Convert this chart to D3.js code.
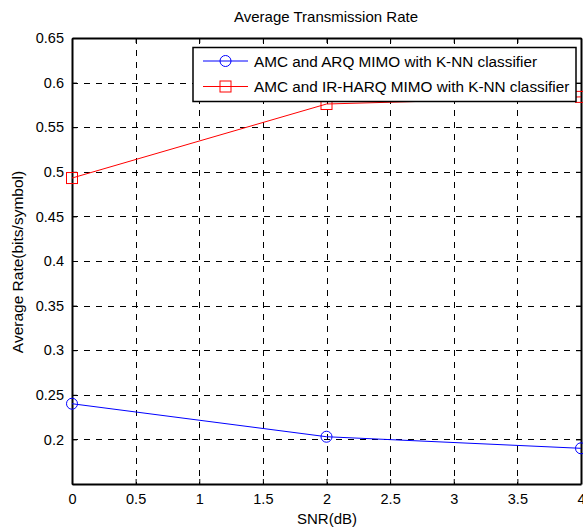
<!DOCTYPE html>
<html><head><meta charset="utf-8">
<script src="https://cdn.jsdelivr.net/npm/d3@7"></script>
<style>body{margin:0;background:#fff}svg{display:block}text{font-family:"Liberation Sans",Arial,sans-serif}</style>
</head><body>
<script>
const snr = [0, 2, 4];
const arqRate = [0.24, 0.203, 0.19];
const harqRate = [0.493, 0.576, 0.584];
const seriesNames = ["AMC and ARQ MIMO with K-NN classifier", "AMC and IR-HARQ MIMO with K-NN classifier"];
const xTicks = [0, 0.5, 1, 1.5, 2, 2.5, 3, 3.5, 4];
const yTicks = [0.15, 0.2, 0.25, 0.3, 0.35, 0.4, 0.45, 0.5, 0.55, 0.6, 0.65];

const W = 583, H = 528;
const m = {left: 72, right: 2, top: 38, bottom: 44};
const svg = d3.select("body").append("svg").attr("width", W).attr("height", H);
const x = d3.scaleLinear().domain([0, 4]).range([m.left, W - m.right]);
const y = d3.scaleLinear().domain([0.15, 0.65]).range([H - m.bottom, m.top]);

// grid
const g = svg.append("g");
g.selectAll(".vg").data(xTicks.slice(1, -1)).join("line")
  .attr("x1", d => Math.round(x(d)) + 0.5).attr("x2", d => Math.round(x(d)) + 0.5)
  .attr("y1", m.top).attr("y2", H - m.bottom)
  .attr("stroke", "#000").attr("stroke-width", 1).attr("stroke-dasharray", "6,6");
g.selectAll(".hg").data(yTicks.slice(1, -1)).join("line")
  .attr("y1", d => Math.round(y(d)) + 0.5).attr("y2", d => Math.round(y(d)) + 0.5)
  .attr("x1", m.left).attr("x2", W - m.right)
  .attr("stroke", "#000").attr("stroke-width", 1).attr("stroke-dasharray", "6,6");

// axes
const xAxis = d3.axisBottom(x).tickValues(xTicks).tickSizeInner(-5).tickSizeOuter(0).tickPadding(10).tickFormat(d3.format("~g"));
const yAxis = d3.axisLeft(y).tickValues(yTicks).tickSizeInner(-5).tickSizeOuter(0).tickPadding(8)
  .tickFormat(d => d === 0.15 ? "" : d3.format("~g")(d));
const xa = svg.append("g").attr("transform", `translate(0,${H - m.bottom})`).call(xAxis);
const ya = svg.append("g").attr("transform", `translate(${m.left},0)`).call(yAxis);
const xt = svg.append("g").attr("transform", `translate(0,${m.top})`).call(d3.axisTop(x).tickValues(xTicks).tickSizeInner(-5).tickSizeOuter(0).tickFormat(""));
const yr = svg.append("g").attr("transform", `translate(${W - m.right},0)`).call(d3.axisRight(y).tickValues(yTicks).tickSizeInner(-5).tickSizeOuter(0).tickFormat(""));
[xa, ya, xt, yr].forEach(a => {
  a.select(".domain").attr("stroke", "#000").attr("stroke-width", 2);
  a.selectAll(".tick line").attr("stroke", "#000").attr("stroke-width", 1);
  a.selectAll(".tick text").attr("font-size", 14.5).attr("fill", "#000").attr("font-family", "Liberation Sans, Arial, sans-serif");
});

// series
const line = d3.line().x(d => x(d[0])).y(d => y(d[1]));
const arqPts = snr.map((s, i) => [s, arqRate[i]]);
const harqPts = snr.map((s, i) => [s, harqRate[i]]);
svg.append("path").datum(arqPts).attr("d", line).attr("fill", "none").attr("stroke", "#0000ff").attr("stroke-width", 1);
svg.append("path").datum(harqPts).attr("d", line).attr("fill", "none").attr("stroke", "#ff0000").attr("stroke-width", 1);
svg.selectAll(".c").data(arqPts).join("circle").attr("cx", d => x(d[0])).attr("cy", d => y(d[1])).attr("r", 5.5)
  .attr("fill", "none").attr("stroke", "#0000ff").attr("stroke-width", 1);
svg.selectAll(".s").data(harqPts).join("rect").attr("x", d => x(d[0]) - 5.5).attr("y", d => y(d[1]) - 5.5)
  .attr("width", 11).attr("height", 11).attr("fill", "none").attr("stroke", "#ff0000").attr("stroke-width", 1);

// legend
const lg = svg.append("g");
lg.append("rect").attr("x", 193).attr("y", 47.5).attr("width", 383).attr("height", 54)
  .attr("fill", "#fff").attr("stroke", "#000").attr("stroke-width", 1.5);
const colors = ["#0000ff", "#ff0000"];
seriesNames.forEach((n, i) => {
  const yy = 61 + i * 25.5;
  lg.append("line").attr("x1", 203).attr("x2", 248).attr("y1", yy).attr("y2", yy).attr("stroke", colors[i]).attr("stroke-width", 1);
  if (i === 0) lg.append("circle").attr("cx", 225.5).attr("cy", yy).attr("r", 5.5).attr("fill", "none").attr("stroke", colors[i]);
  else lg.append("rect").attr("x", 220).attr("y", yy - 5.5).attr("width", 11).attr("height", 11).attr("fill", "none").attr("stroke", colors[i]);
  lg.append("text").attr("x", 254).attr("y", yy + 5.5).attr("font-size", 15.3).text(n);
});

// titles
svg.append("text").attr("x", 326).attr("y", 22).attr("text-anchor", "middle").attr("font-size", 15).text("Average Transmission Rate");
svg.append("text").attr("x", 327).attr("y", 524).attr("text-anchor", "middle").attr("font-size", 15).text("SNR(dB)");
svg.append("text").attr("transform", "translate(23,262) rotate(-90)").attr("text-anchor", "middle").attr("font-size", 15.5).text("Average Rate(bits/symbol)");
</script>
</body></html>
